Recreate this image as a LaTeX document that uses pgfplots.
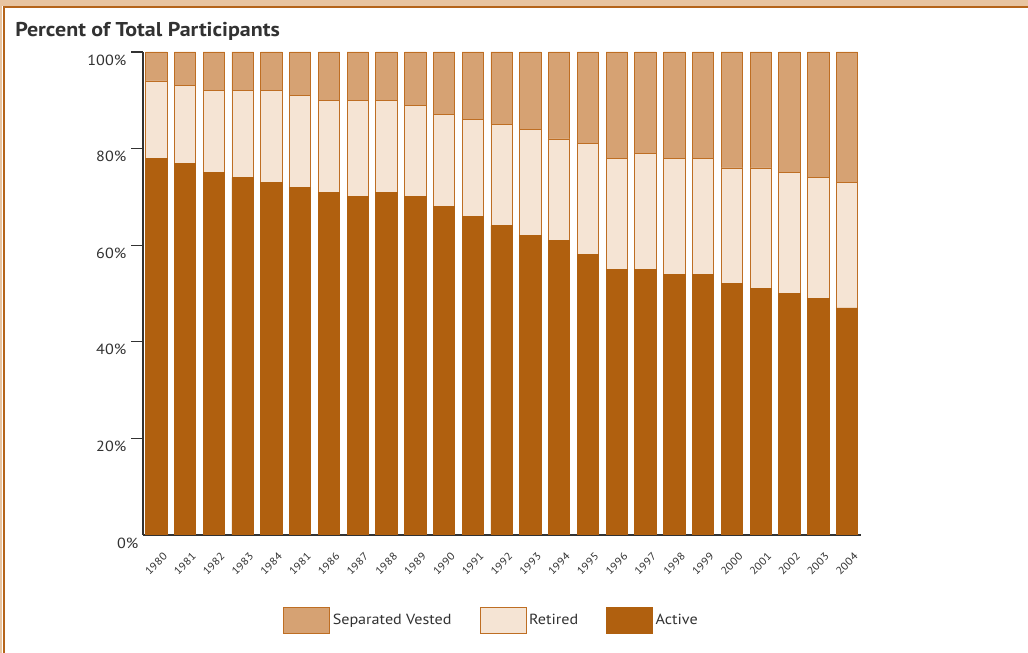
\documentclass[border=0pt]{standalone}
\usepackage{fontspec}
\setmainfont[FakeStretch=1.1]{PT Sans}
\usepackage{pgfplots}
\usepackage{pgfplotstable}
\pgfplotsset{compat=1.18}

\definecolor{activecol}{RGB}{176,96,15}
\definecolor{retiredcol}{RGB}{245,228,212}
\definecolor{sepcol}{RGB}{214,162,115}
\definecolor{barline}{RGB}{190,110,35}
\definecolor{frametan}{RGB}{232,196,160}
\definecolor{frameline}{RGB}{181,100,26}
\definecolor{textcol}{RGB}{50,50,50}

% x = bar index, act = active, ret = retired, sep = separated vested (percent)
\pgfplotstableread{
x act ret sep
0  78 16 6
1  77 16 7
2  75 17 8
3  74 18 8
4  73 19 8
5  72 19 9
6  71 19 10
7  70 20 10
8  71 19 10
9  70 19 11
10 68 19 13
11 66 20 14
12 64 21 15
13 62 22 16
14 61 21 18
15 58 23 19
16 55 23 22
17 55 24 21
18 54 24 22
19 54 24 22
20 52 24 24
21 51 25 24
22 50 25 25
23 49 25 26
24 47 26 27
}\participants

\pgfplotsset{legbox/.style={legend image code/.code={\draw[##1] (0pt,-10pt) rectangle (34.5pt,10pt);}}}

\begin{document}
\begin{tikzpicture}
\useasboundingbox (0,0) rectangle (771pt,489.75pt);
\fill[frametan] (0,0) rectangle (771pt,489.75pt);
\fill[white] (1.5pt,0) rectangle (771pt,485.5pt);
\draw[frameline, line width=1.8pt] (3.2pt,0) -- (3.2pt,484.4pt) -- (771pt,484.4pt);

\node[anchor=base west, inner sep=0pt, text=textcol,
      font=\bfseries\fontsize{15}{18}\selectfont] at (11.25pt,462pt)
      {Percent of Total Participants};

\begin{axis}[
    at={(107.25pt,88.5pt)}, anchor=south west,
    scale only axis,
    width=538.5pt, height=362.25pt,
    ybar stacked,
    bar width=16pt,
    xmin=-0.462, xmax=24.486,
    ymin=0, ymax=100,
    axis x line*=bottom, axis y line*=left,
    axis line style={draw=textcol, line width=0.9pt},
    xtick=data,
    xticklabels={1980,1981,1982,1983,1984,1981,1986,1987,1988,1989,1990,1991,1992,1993,1994,1995,1996,1997,1998,1999,2000,2001,2002,2003,2004},
    x tick style={draw=none},
    xticklabel style={xshift=7.5pt, yshift=-5pt, rotate=45, anchor=east,
        font=\fontsize{8}{9}\selectfont, text=textcol, inner sep=1pt},
    ytick={20,40,60,80,100},
    yticklabels={20\%,40\%,60\%,80\%,100\%},
    extra y ticks={0},
    extra y tick labels={0\%},
    extra y tick style={major tick length=0pt},
    tick align=outside,
    major tick length=9pt,
    y tick style={draw=textcol, line width=0.9pt},
    yticklabel style={font=\fontsize{11}{13}\selectfont, text=textcol, yshift=-6pt},
    every axis plot/.append style={draw=barline, line width=0.6pt},
    legend style={at={(0.195,-0.177)}, anchor=west, draw=none, fill=none,
        inner sep=0pt, legend columns=3,
        font=\fontsize{11}{13}\selectfont, text=textcol,
        /tikz/every even column/.append style={column sep=19pt}},
    reverse legend,
    legend cell align=left,
]
\addplot[fill=activecol, draw=activecol, legbox] table[x=x, y=act] {\participants};
\addplot[fill=retiredcol, legbox] table[x=x, y=ret] {\participants};
\addplot[fill=sepcol, legbox] table[x=x, y=sep] {\participants};
\legend{Active, Retired, Separated Vested}
\end{axis}
\end{tikzpicture}
\end{document}
